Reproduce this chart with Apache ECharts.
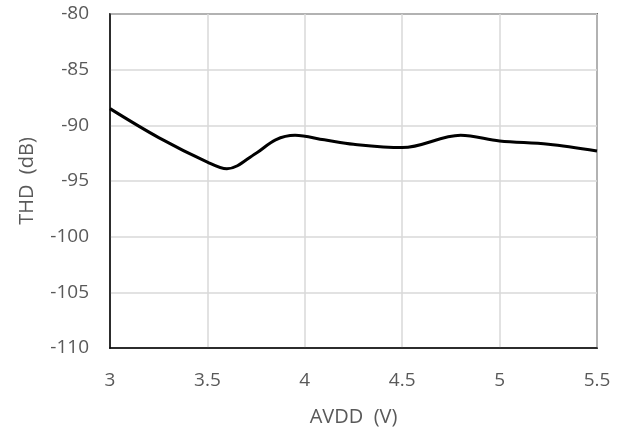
<!DOCTYPE html>
<html><head><meta charset="utf-8">
<script src="https://cdn.jsdelivr.net/npm/echarts@6/dist/echarts.min.js"></script>
<style>html,body{margin:0;padding:0;background:#fff}#c{width:622px;height:432px}</style>
</head><body><div id="c"></div>
<script>
var avdd = [3.0, 3.25, 3.5, 3.6, 3.75, 3.85, 3.95, 4.1, 4.25, 4.5, 4.8, 5.0, 5.25, 5.5];
var thd  = [-88.5, -91.1, -93.3, -93.9, -92.5, -91.3, -90.9, -91.3, -91.7, -92.0, -90.9, -91.4, -91.7, -92.3];
var xTicks = [3, 3.5, 4, 4.5, 5, 5.5];
var yTicks = [-110, -105, -100, -95, -90, -85, -80];
var chart = echarts.init(document.getElementById('c'));
var font = 'Open Sans';
chart.setOption({
  animation: false,
  grid: {left: 110, right: 25, top: 14, bottom: 83, show: true, borderColor: '#000', borderWidth: 1.5, containLabel: false},
  xAxis: {
    type: 'value', min: 3, max: 5.5, interval: 0.5,
    name: 'AVDD  (V)', nameLocation: 'middle', nameGap: 59,
    nameTextStyle: {color: '#595959', fontSize: 20, fontFamily: font},
    axisLine: {show: true, lineStyle: {color: '#000', width: 1.5}},
    axisTick: {show: false},
    axisLabel: {color: '#595959', fontSize: 19, fontFamily: font, margin: 23},
    splitLine: {show: true, lineStyle: {color: '#d9d9d9', width: 1.5}}
  },
  yAxis: {
    type: 'value', min: -110, max: -80, interval: 5,
    name: 'THD  (dB)', nameLocation: 'middle', nameGap: 73,
    nameTextStyle: {color: '#595959', fontSize: 20, fontFamily: font},
    axisLine: {show: true, lineStyle: {color: '#000', width: 1.5}},
    axisTick: {show: false},
    axisLabel: {color: '#595959', fontSize: 19, fontFamily: font, margin: 21},
    splitLine: {show: true, lineStyle: {color: '#d9d9d9', width: 1.5}}
  },
  series: [{
    type: 'line', smooth: 0.35, showSymbol: false,
    data: avdd.map(function(v, i){ return [v, thd[i]]; }),
    lineStyle: {color: '#000', width: 3}
  }]
});
</script></body></html>
